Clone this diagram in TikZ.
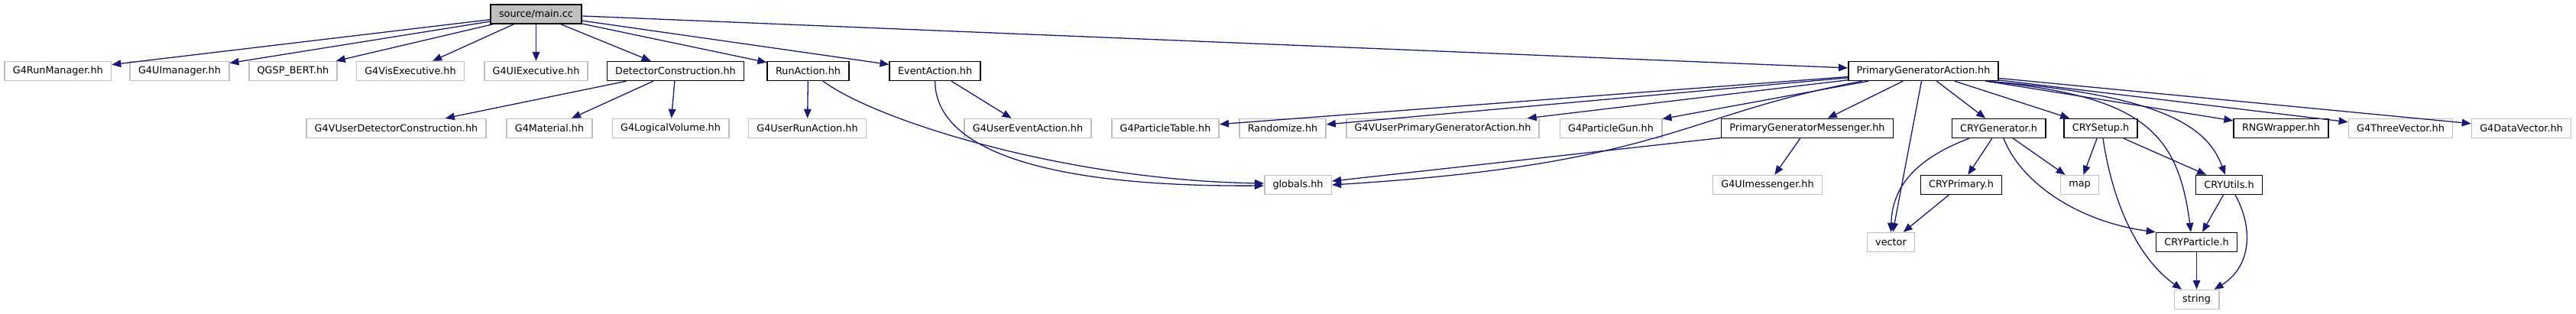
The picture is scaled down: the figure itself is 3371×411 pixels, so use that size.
\documentclass[tikz,border=0pt]{standalone}
\usepackage{fontspec}
\setmainfont{DejaVu Sans}
\usepackage{tikz}
\usetikzlibrary{arrows.meta, positioning}
\usepackage{xcolor}
\definecolor{edgeblue}{HTML}{191970}
\definecolor{boxgray}{HTML}{BFBFBF}

\begin{document}
\begin{tikzpicture}[
    x=0.5pt, y=-0.5pt,
    every node/.style={font=\fontsize{6.4pt}{7.7pt}\selectfont},
    filebox/.style={draw, line width=0.8pt, inner xsep=5.4pt, inner ysep=0pt, minimum height=12.4pt},
    mainfile/.style={filebox, draw=black, fill=boxgray},
    docfile/.style={filebox, draw=black, fill=white},
    extfile/.style={filebox, draw=boxgray, fill=white},
    dep/.style={-{Triangle[length=6pt, width=4.8pt]}, line width=0.65pt, edgeblue}
]
    \useasboundingbox (0,0) rectangle (3371,411);

    \node[mainfile] (main) at (701.5,18.5) {source/main.cc};

    \node[extfile] (runmgr) at (75.8,93) {G4RunManager.hh};
    \node[extfile] (uimgr) at (235,93) {G4UImanager.hh};
    \node[extfile] (qgsp) at (383.5,93) {QGSP\_BERT.hh};
    \node[extfile] (visexec) at (537,93) {G4VisExecutive.hh};
    \node[extfile] (uiexec) at (701.5,93) {G4UIExecutive.hh};
    \node[docfile] (detcons) at (884,93) {DetectorConstruction.hh};
    \node[docfile] (runact) at (1057.5,93) {RunAction.hh};
    \node[docfile] (evtact) at (1223.6,93) {EventAction.hh};
    \node[docfile] (pga) at (2517,93) {PrimaryGeneratorAction.hh};

    \node[extfile] (vdetcons) at (518.5,168) {G4VUserDetectorConstruction.hh};
    \node[extfile] (material) at (719,168) {G4Material.hh};
    \node[extfile] (logvol) at (877.5,168) {G4LogicalVolume.hh};
    \node[extfile] (userrun) at (1056.5,168) {G4UserRunAction.hh};
    \node[extfile] (userevt) at (1345,168) {G4UserEventAction.hh};
    \node[extfile] (ptable) at (1525,168) {G4ParticleTable.hh};
    \node[extfile] (randomize) at (1678.5,168) {Randomize.hh};
    \node[extfile] (vprimgen) at (1888,168) {G4VUserPrimaryGeneratorAction.hh};
    \node[extfile] (pgun) at (2108,168) {G4ParticleGun.hh};
    \node[docfile] (pgm) at (2365,168) {PrimaryGeneratorMessenger.hh};
    \node[docfile] (crygen) at (2615.5,168) {CRYGenerator.h};
    \node[docfile] (crysetup) at (2749,168) {CRYSetup.h};
    \node[docfile] (rngwrap) at (2985,168) {RNGWrapper.hh};
    \node[extfile] (threevec) at (3141.5,168) {G4ThreeVector.hh};
    \node[extfile] (datavec) at (3299.5,168) {G4DataVector.hh};

    \node[extfile] (globals) at (1698.5,242) {globals.hh};
    \node[extfile] (uimess) at (2313,242) {G4UImessenger.hh};
    \node[docfile] (cryprim) at (2566.5,242) {CRYPrimary.h};
    \node[extfile] (map) at (2721.5,242) {map};
    \node[docfile] (cryutils) at (2917,242) {CRYUtils.h};

    \node[extfile] (vector) at (2474.5,317) {vector};
    \node[docfile] (cryparticle) at (2874.5,317) {CRYParticle.h};

    \node[extfile] (string) at (2874.5,392) {string};

    \draw[dep] (main) -- (runmgr);
    \draw[dep] (main) -- (uimgr);
    \draw[dep] (main) -- (qgsp);
    \draw[dep] (main) -- (visexec);
    \draw[dep] (main) -- (uiexec);
    \draw[dep] (main) -- (detcons);
    \draw[dep] (main) -- (runact);
    \draw[dep] (main) -- (evtact);
    \draw[dep] (main) -- (pga);

    \draw[dep] (detcons) -- (vdetcons);
    \draw[dep] (detcons) -- (material);
    \draw[dep] (detcons) -- (logvol);
    \draw[dep] (runact) -- (userrun);
    \draw[dep] ([xshift=9.75pt]runact.south) .. controls (1150,160) and (1400,236) .. ([yshift=1pt]globals.west);
    \draw[dep] (evtact) -- (userevt);
    \draw[dep] (evtact.south) .. controls (1224,190) and (1350,245) .. ([yshift=-0.5pt]globals.west);

    \draw[dep] (pga) -- (ptable);
    \draw[dep] (pga) -- (randomize);
    \draw[dep] (pga) -- (vprimgen);
    \draw[dep] (pga) -- (pgun);
    \draw[dep] (pga) -- (pgm);
    \draw[dep] ([xshift=-40pt]pga.south) .. controls (2200,150) and (2180,215) .. (globals.east);
    \draw[dep] (pga) -- (vector);
    \draw[dep] (pga) -- (crygen);
    \draw[dep] (pga) -- (crysetup);
    \draw[dep] ([xshift=40.5pt]pga.south) .. controls (2800,125) and (2850,170) .. ([xshift=-3.75pt]cryparticle.north);
    \draw[dep] ([xshift=41.5pt]pga.south) .. controls (2840,125) and (2890,170) .. ([xshift=-2.5pt]cryutils.north);
    \draw[dep] (pga) -- (rngwrap);
    \draw[dep] (pga) -- (threevec);
    \draw[dep] (pga) -- (datavec);

    \draw[dep] (pgm) -- (globals);
    \draw[dep] (pgm) -- (uimess);

    \draw[dep] ([xshift=-19.25pt]crygen.south) .. controls (2500,210) and (2476,250) .. (vector.north);
    \draw[dep] (crygen) -- (cryprim);
    \draw[dep] (crygen) -- (map);
    \draw[dep] ([xshift=3.25pt]crygen.south) .. controls (2645,240) and (2720,290) .. (cryparticle.north west);
    \draw[dep] (cryprim) -- (vector);

    \draw[dep] (crysetup) -- (map);
    \draw[dep] ([xshift=1.5pt]crysetup.south) .. controls (2765,270) and (2800,340) .. ([xshift=-9.75pt]string.north);
    \draw[dep] (crysetup) -- (cryutils);

    \draw[dep] (cryutils) -- (cryparticle);
    \draw[dep] ([xshift=4pt]cryutils.south) .. controls (2950,300) and (2945,350) .. ([xshift=11.5pt]string.north);
    \draw[dep] (cryparticle) -- (string);
\end{tikzpicture}
\end{document}
